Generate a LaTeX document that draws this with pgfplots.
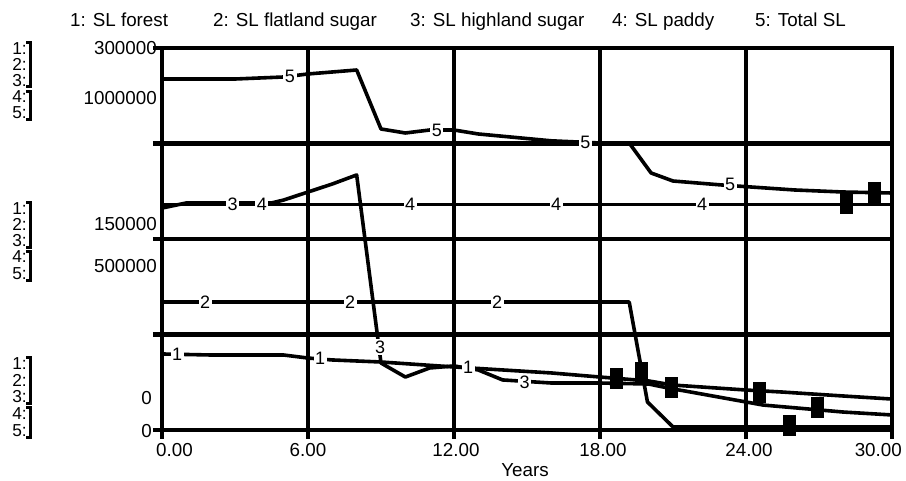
\documentclass[border=0pt]{standalone}
\usepackage{fontspec}
\setmainfont{Liberation Sans}
\usepackage{pgfplots}
\pgfplotsset{compat=1.18}
\newcommand\lab{\fontsize{18}{20}\selectfont}
\newcommand\txt{\fontsize{18.8}{21}\selectfont}
\newcommand\key{\fontsize{17.3}{17}\selectfont}

% shared frame of the three stacked axes
\pgfplotsset{stella/.style={
  at={(162pt,51pt)}, anchor=south west,
  scale only axis, width=730pt, height=382pt,
  xmin=0, xmax=30, clip=false}}
% text labels on the lines
\pgfplotsset{linelab/.style={draw=none, mark=none, nodes near coords,
  point meta=explicit symbolic,
  every node near coord/.append style={anchor=center, fill=white,
    inner sep=1.5pt, font=\lab}}}
% black blocks
\pgfplotsset{block/.style={only marks, mark=|, mark size=10.5pt,
  mark options={line width=13pt}}}

\begin{document}
\begin{tikzpicture}[font=\txt]
\useasboundingbox (0,0) rectangle (906pt,481pt);

% ---- series 1-3, scale 0 .. 300000
\begin{axis}[stella,
  ymin=0, ymax=300000,
  xtick={0,6,12,18,24,30},
  xticklabels={},
  ytick={0,75000,150000,225000,300000},
  yticklabels={},
  scaled y ticks=false,
  grid=major, grid style={line width=4.4pt, black},
  axis line style={line width=4.4pt},
  tick style={line width=4.4pt, black},
  tick align=outside, major tick length=9pt,
  xtick pos=bottom, ytick pos=left,
  every axis plot/.append style={line width=3.6pt, black, line join=round}]
% 1: SL forest
\addplot[mark=none] coordinates {(0,59700)(2,58900)(5,58900)(6,56500)(7,55000)
  (9,53400)(12,49500)(16,44800)(18,41600)(20,38500)(21,35300)(24,31400)
  (25.5,29800)(28,26700)(30,24300)};
% 2: SL flatland sugar
\addplot[mark=none] coordinates {(0,100500)(19.2,100500)(19.95,22000)(21,2400)(30,2400)};
% 3: SL highland sugar
\addplot[mark=none] coordinates {(0,174300)(1,178300)(4.5,178300)(5,180600)(6,186900)
  (7,193200)(8,200300)(9,52600)(10,41600)(11,48700)(12,50300)(13,47100)(14,39300)
  (16,36900)(18,36900)(20,36100)(21,32200)(21.5,30600)(24.7,19600)(28,14100)(30,11800)};
\end{axis}

% ---- series 4-5, scale 0 .. 1000000
\begin{axis}[stella, hide axis, ymin=0, ymax=1000000,
  every axis plot/.append style={line width=3.6pt, black, line join=round}]
% 4: SL paddy
\addplot[mark=none] coordinates {(0,590000)(30,590000)};
% 5: Total SL
\addplot[mark=none] coordinates {(0,918800)(3,918800)(5,924100)(6,932000)(8,942400)
  (9,788000)(10,777500)(11,785300)(12,785300)(13,774900)(16,757000)(18,751300)
  (19.2,751300)(20.1,672800)(21,651800)(23,641400)(26,628300)(28,623000)(30,620400)};
\addplot[linelab] table[meta=l] {
x y l
5.26 926700 5
11.3 785000 5
17.4 754000 5
23.35 644000 5
4.1 590000 4
10.2 590000 4
16.2 590000 4
22.2 590000 4
};
\addplot[block] coordinates {(28.15,592000)(29.3,623000)};
\end{axis}

% ---- labels for series 1-3
\begin{axis}[stella, hide axis, ymin=0, ymax=300000]
\addplot[linelab] table[meta=l] {
x y l
2.9 177500 3
8.96 65200 3
14.9 37700 3
1.77 100500 2
7.73 100500 2
13.77 100500 2
0.62 59700 1
6.5 56500 1
12.58 49500 1
};
\addplot[block] coordinates {(18.66,40100)(19.69,44800)(20.92,33000)
  (24.54,29100)(25.77,3900)(26.92,17300)};
\end{axis}

% titles
\node[anchor=base west, inner sep=0pt] at (70pt,454pt) {1: SL forest};
\node[anchor=base west, inner sep=0pt] at (213pt,454pt) {2: SL flatland sugar};
\node[anchor=base west, inner sep=0pt] at (410pt,454pt) {3: SL highland sugar};
\node[anchor=base west, inner sep=0pt] at (612pt,454pt) {4: SL paddy};
\node[anchor=base west, inner sep=0pt] at (755pt,454pt) {5: Total SL};

% series keys on the left
\foreach \a/\b/\c/\d/\e in {426/410/394/378/362, 266/250/234/218/201, 111/94/78/61/44}{
  \node[anchor=base east, inner sep=0pt, font=\key] at (27pt,\a pt) {1:};
  \node[anchor=base east, inner sep=0pt, font=\key] at (27pt,\b pt) {2:};
  \node[anchor=base east, inner sep=0pt, font=\key] at (27pt,\c pt) {3:};
  \node[anchor=base east, inner sep=0pt, font=\key] at (27pt,\d pt) {4:};
  \node[anchor=base east, inner sep=0pt, font=\key] at (27pt,\e pt) {5:};
}
\foreach \t/\u in {438/394, 389/361, 278/233, 229/200, 123/77, 73/43}{
  \draw[line width=3pt] (26pt,\t pt) -- (30pt,\t pt) -- (30pt,\u pt) -- (26pt,\u pt);
}

% scale values
\node[anchor=base east, inner sep=0pt] at (157pt,426pt) {300000};
\node[anchor=base east, inner sep=0pt] at (157pt,376pt) {1000000};
\node[anchor=base east, inner sep=0pt] at (157pt,250pt) {150000};
\node[anchor=base east, inner sep=0pt] at (157pt,208pt) {500000};
\node[anchor=base east, inner sep=0pt] at (152pt,76pt) {0};
\node[anchor=base east, inner sep=0pt] at (152pt,43pt) {0};

% time axis
\node[anchor=base west, inner sep=0pt] at (156pt,24pt) {0.00};
\node[anchor=base, inner sep=0pt] at (308pt,24pt) {6.00};
\node[anchor=base, inner sep=0pt] at (456pt,24pt) {12.00};
\node[anchor=base, inner sep=0pt] at (603pt,24pt) {18.00};
\node[anchor=base, inner sep=0pt] at (749pt,24pt) {24.00};
\node[anchor=base east, inner sep=0pt] at (902pt,24pt) {30.00};
\node[anchor=base, inner sep=0pt] at (525pt,4pt) {Years};
\end{tikzpicture}
\end{document}
